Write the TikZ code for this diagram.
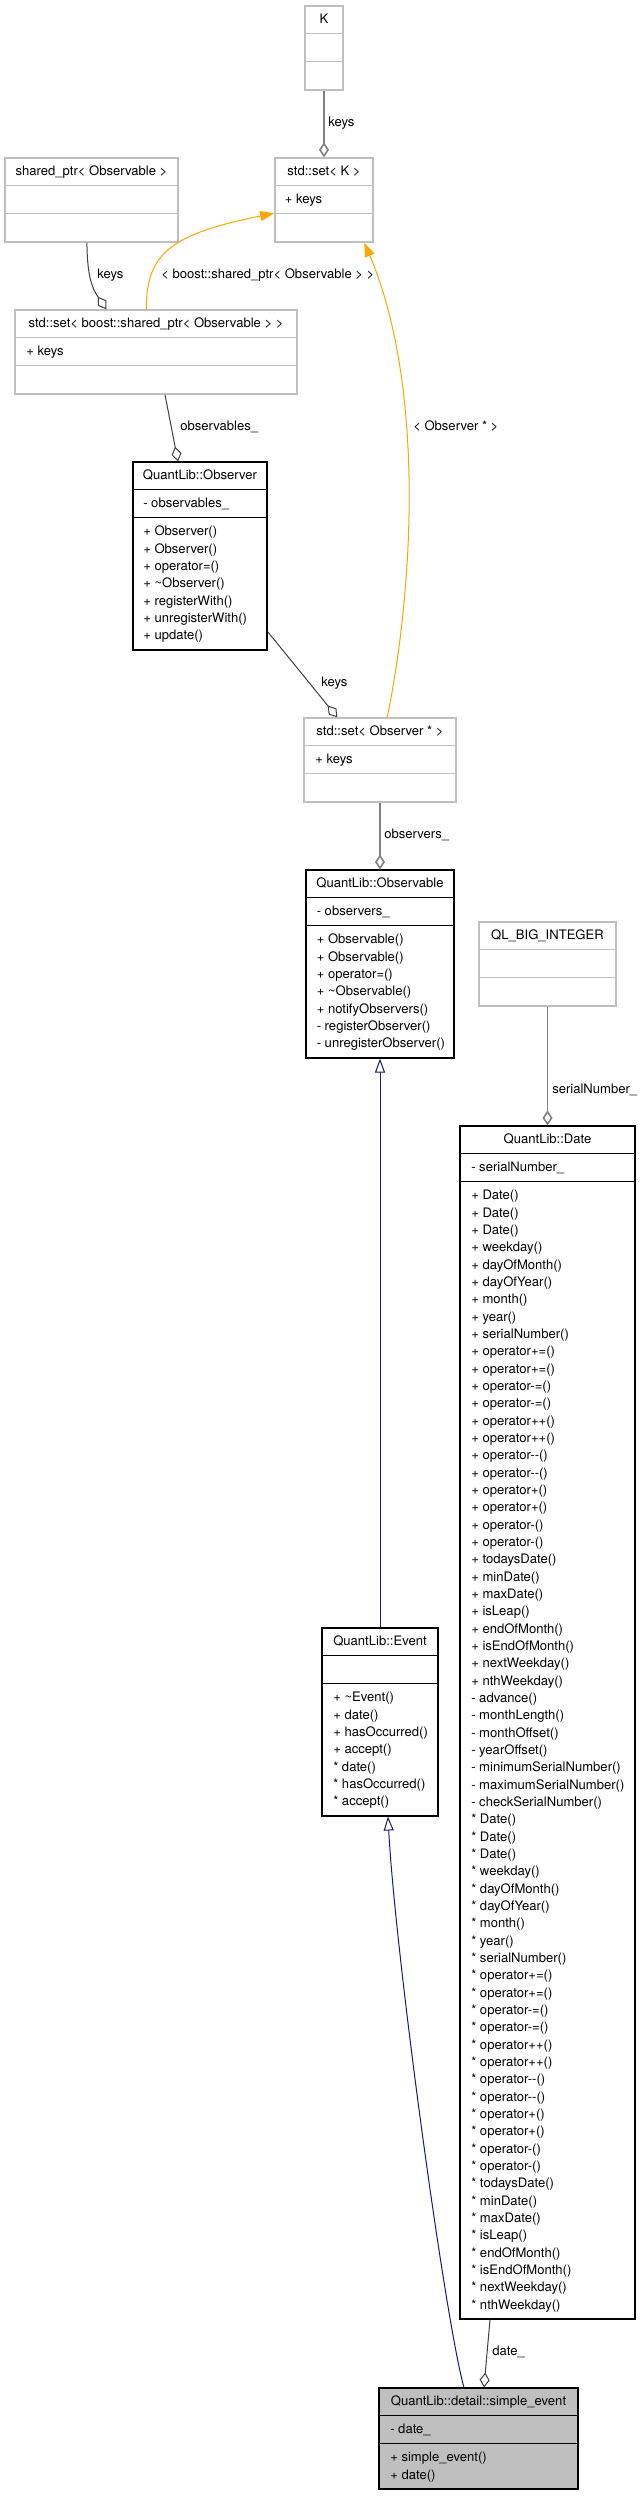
\documentclass[tikz,border=0pt]{standalone}
\usepackage{fontspec}
\setmainfont{TeX Gyre Heros}
\usetikzlibrary{arrows.meta,fit}

\definecolor{boxgray}{HTML}{BFBFBF}
\definecolor{edgedark}{HTML}{404040}
\definecolor{edgegray}{HTML}{808080}
\definecolor{inhblue}{HTML}{191970}
\definecolor{tmplorange}{HTML}{FFA500}

\begin{document}
\begin{tikzpicture}[
    x=0.75pt, y=-0.75pt,
    every node/.style={font=\fontsize{9.8}{13}\selectfont, inner sep=0pt},
    docclass/.style={draw=black, line width=0.8pt},
    extclass/.style={draw=boxgray, line width=1.1pt},
    classtitle/.style={anchor=base},
    members/.style={anchor=north west, align=left},
    edgelabel/.style={anchor=west},
    aggr/.style={edgedark, line width=0.75pt, -{Diamond[open, length=11.25pt, width=7.5pt]}},
    aggrgray/.style={edgegray, line width=1.2pt, -{Diamond[open, length=11.25pt, width=7.5pt]}},
    inherit/.style={inhblue, line width=0.75pt, -{Triangle[open, length=10.5pt, width=7.5pt]}},
    templ/.style={tmplorange, line width=0.75pt, -{Triangle[length=10.5pt, width=7.5pt]}}
  ]
    \useasboundingbox (0,0) rectangle (643,2496);

    % K
    \node[extclass, fit={(305,6) (343,90)}] (k) {};
    \draw[extclass] (k.north west) ++(0,28) -- ++(38,0) (k.north west) ++(0,56) -- ++(38,0);
    \node[classtitle] (k-name) at (324,23.4) {K};

    % std::set< K >
    \node[extclass, fit={(275,158) (373,242)}] (setk) {};
    \draw[extclass] (setk.north west) ++(0,28) -- ++(98,0) (setk.north west) ++(0,56) -- ++(98,0);
    \node[classtitle] (setk-name) at (324,175.4) {std::set< K >};
    \node[members] (setk-attr) at (284.5,191.3) {\strut + keys};

    % shared_ptr< Observable >
    \node[extclass, fit={(5,158) (178,242)}] (shptr) {};
    \draw[extclass] (shptr.north west) ++(0,28) -- ++(173,0) (shptr.north west) ++(0,56) -- ++(173,0);
    \node[classtitle] (shptr-name) at (91.5,175.4) {shared\_ptr< Observable >};

    % std::set< boost::shared_ptr< Observable > >
    \node[extclass, fit={(15,310) (297,394)}] (setsp) {};
    \draw[extclass] (setsp.north west) ++(0,28) -- ++(282,0) (setsp.north west) ++(0,56) -- ++(282,0);
    \node[classtitle] (setsp-name) at (156,327.4) {std::set< boost::shared\_ptr< Observable > >};
    \node[members] (setsp-attr) at (26,343.3) {\strut + keys};

    % QuantLib::Observer
    \node[docclass, fit={(133,462) (267,650)}] (observer) {};
    \draw[docclass] (observer.north west) ++(0,28) -- ++(134,0) (observer.north west) ++(0,56) -- ++(134,0);
    \node[classtitle] (observer-name) at (200,479.4) {QuantLib::Observer};
    \node[members] (observer-attr) at (143,495.3) {\strut - observables\_};
    \node[members] (observer-ops) at (143,523.3) {\strut + Observer()\\+ Observer()\\+ operator=()\\+ \textasciitilde Observer()\\+ registerWith()\\+ unregisterWith()\\+ update()};

    % std::set< Observer * >
    \node[extclass, fit={(304,718) (456,802)}] (setobs) {};
    \draw[extclass] (setobs.north west) ++(0,28) -- ++(152,0) (setobs.north west) ++(0,56) -- ++(152,0);
    \node[classtitle] (setobs-name) at (380,735.4) {std::set< Observer * >};
    \node[members] (setobs-attr) at (315,751.3) {\strut + keys};

    % QuantLib::Observable
    \node[docclass, fit={(306,870) (454,1058)}] (observable) {};
    \draw[docclass] (observable.north west) ++(0,28) -- ++(148,0) (observable.north west) ++(0,56) -- ++(148,0);
    \node[classtitle] (observable-name) at (380,887.4) {QuantLib::Observable};
    \node[members] (observable-attr) at (316.5,903.3) {\strut - observers\_};
    \node[members] (observable-ops) at (316.5,931.3) {\strut + Observable()\\+ Observable()\\+ operator=()\\+ \textasciitilde Observable()\\+ notifyObservers()\\- registerObserver()\\- unregisterObserver()};

    % QL_BIG_INTEGER
    \node[extclass, fit={(479,922) (616,1006)}] (bigint) {};
    \draw[extclass] (bigint.north west) ++(0,28) -- ++(137,0) (bigint.north west) ++(0,56) -- ++(137,0);
    \node[classtitle] (bigint-name) at (547.5,939.4) {QL\_BIG\_INTEGER};

    % QuantLib::Date
    \node[docclass, fit={(460,1126) (635,2319)}] (date) {};
    \draw[docclass] (date.north west) ++(0,28) -- ++(175,0) (date.north west) ++(0,56) -- ++(175,0);
    \node[classtitle] (date-name) at (547.5,1143.4) {QuantLib::Date};
    \node[members] (date-attr) at (471,1159.3) {\strut - serialNumber\_};
    \node[members] (date-ops) at (471,1187.3) {\strut + Date()\\+ Date()\\+ Date()\\+ weekday()\\+ dayOfMonth()\\+ dayOfYear()\\+ month()\\+ year()\\+ serialNumber()\\+ operator+=()\\+ operator+=()\\+ operator-=()\\+ operator-=()\\+ operator++()\\+ operator++()\\+ operator-{}-()\\+ operator-{}-()\\+ operator+()\\+ operator+()\\+ operator-()\\+ operator-()\\+ todaysDate()\\+ minDate()\\+ maxDate()\\+ isLeap()\\+ endOfMonth()\\+ isEndOfMonth()\\+ nextWeekday()\\+ nthWeekday()\\- advance()\\- monthLength()\\- monthOffset()\\- yearOffset()\\- minimumSerialNumber()\\- maximumSerialNumber()\\- checkSerialNumber()\\* Date()\\* Date()\\* Date()\\* weekday()\\* dayOfMonth()\\* dayOfYear()\\* month()\\* year()\\* serialNumber()\\* operator+=()\\* operator+=()\\* operator-=()\\* operator-=()\\* operator++()\\* operator++()\\* operator-{}-()\\* operator-{}-()\\* operator+()\\* operator+()\\* operator-()\\* operator-()\\* todaysDate()\\* minDate()\\* maxDate()\\* isLeap()\\* endOfMonth()\\* isEndOfMonth()\\* nextWeekday()\\* nthWeekday()};

    % QuantLib::Event
    \node[docclass, fit={(322,1628) (438,1816)}] (event) {};
    \draw[docclass] (event.north west) ++(0,28) -- ++(116,0) (event.north west) ++(0,56) -- ++(116,0);
    \node[classtitle] (event-name) at (380,1645.4) {QuantLib::Event};
    \node[members] (event-ops) at (333,1689.3) {\strut + \textasciitilde Event()\\+ date()\\+ hasOccurred()\\+ accept()\\* date()\\* hasOccurred()\\* accept()};

    % QuantLib::detail::simple_event
    \node[docclass, fill=boxgray, fit={(379,2388) (578,2489)}] (simple) {};
    \draw[docclass] (simple.north west) ++(0,28) -- ++(199,0) (simple.north west) ++(0,56) -- ++(199,0);
    \node[classtitle] (simple-name) at (478.5,2405.4) {QuantLib::detail::simple\_event};
    \node[members] (simple-attr) at (390,2421.3) {\strut - date\_};
    \node[members] (simple-ops) at (390,2449.3) {\strut + simple\_event()\\+ date()};

    % Draw the relations
    \draw[aggrgray] (k.south) -- (setk.north);
    \node[edgelabel] (lbl-k) at (328,123) {keys};

    \draw[aggr] ([xshift=-3.4pt]shptr.south) .. controls +(0,38) and +(-12,-18) .. ([xshift=69pt]setsp.north west);
    \node[edgelabel] (lbl-shptr) at (97,275) {keys};

    \draw[templ] ([xshift=99pt]setsp.north west) .. controls +(0,-55) and +(-105,21) .. ([yshift=-42pt]setk.north west);
    \node[edgelabel] (lbl-setsp) at (161,275) {< boost::shared\_ptr< Observable > >};

    \draw[templ] ([xshift=63pt]setobs.north west) .. controls +(28,-138) and +(59,138) .. ([xshift=67.5pt]setk.south west);
    \node[edgelabel] (lbl-setobs) at (413,426) {< Observer * >};

    \draw[aggr] ([xshift=6.75pt]setsp.south) -- ([xshift=-16.5pt]observer.north);
    \node[edgelabel] (lbl-observables) at (180,427) {observables\_};

    \draw[aggr] ([yshift=-127.5pt]observer.north east) -- ([xshift=25.5pt]setobs.north west);
    \node[edgelabel] (lbl-observer) at (321,683) {keys};

    \draw[aggrgray] (setobs.south) -- (observable.north);
    \node[edgelabel] (lbl-observers) at (384,835) {observers\_};

    \draw[aggrgray] (bigint.south) -- (date.north);
    \node[edgelabel] (lbl-serial) at (552,1090) {serialNumber\_};

    % inheritance
    \draw[inherit] (event.north) -- (observable.south);
    \draw[inherit] ([xshift=-10.9pt]simple.north) .. controls +(-19,-68) and +(7,134) .. ([xshift=6pt]event.south);

    \draw[aggr] ([xshift=-43.1pt]date.south) -- ([xshift=4.1pt]simple.north);
    \node[edgelabel] (lbl-date) at (492,2352) {date\_};
  \end{tikzpicture}
\end{document}
